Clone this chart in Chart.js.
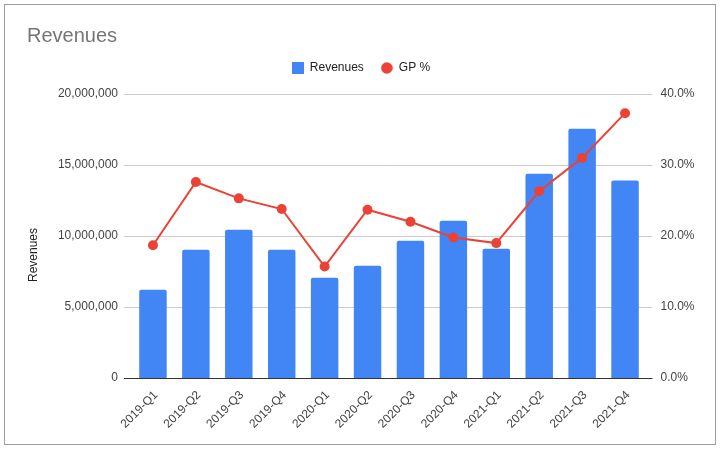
<!DOCTYPE html>
<html>
<head>
<meta charset="utf-8">
<script src="https://cdn.jsdelivr.net/npm/chart.js@4"></script>
<style>
  html, body { margin: 0; padding: 0; background: #fff; }
  canvas { display: block; }
</style>
</head>
<body>
<canvas id="c" width="723" height="453"></canvas>
<script>
const categories = ['2019-Q1','2019-Q2','2019-Q3','2019-Q4','2020-Q1','2020-Q2','2020-Q3','2020-Q4','2021-Q1','2021-Q2','2021-Q3','2021-Q4'];
const revenues = [6220000, 9040000, 10440000, 9040000, 7060000, 7900000, 9660000, 11080000, 9100000, 14390000, 17560000, 13900000];
const gpPercent = [18.7, 27.6, 25.3, 23.8, 15.7, 23.7, 22.0, 19.8, 19.0, 26.3, 31.0, 37.3];
const leftTicks = [0, 5000000, 10000000, 15000000, 20000000];
const rightTicks = [0, 10, 20, 30, 40];

const BLUE = '#4285F4';
const RED = '#EA4335';
const FONT = '"Liberation Sans", Arial, sans-serif';

function makeSwatch(shape, color) {
  const cv = document.createElement('canvas');
  cv.width = 12; cv.height = 12;
  const g = cv.getContext('2d');
  g.fillStyle = color;
  if (shape === 'rect') {
    g.fillRect(0, 0, 12, 12);
  } else {
    g.beginPath(); g.arc(6, 6, 5.8, 0, Math.PI * 2); g.fill();
  }
  return cv;
}
const swatches = [makeSwatch('rect', BLUE), makeSwatch('circle', RED)];

const framePlugin = {
  id: 'frame',
  beforeDraw(chart) {
    const ctx = chart.ctx;
    ctx.save();
    ctx.fillStyle = '#fff';
    ctx.fillRect(0, 0, chart.width, chart.height);
    ctx.strokeStyle = '#9e9e9e';
    ctx.lineWidth = 1;
    ctx.strokeRect(4.5, 4.5, 711, 440);
    ctx.restore();
  },
  beforeDatasetsDraw(chart) {
    // horizontal gridlines, extended slightly beyond the category band
    const ctx = chart.ctx;
    const ys = chart.scales.y;
    const area = chart.chartArea;
    ctx.save();
    ctx.lineWidth = 1;
    ys.ticks.forEach(t => {
      const py = Math.round(ys.getPixelForValue(t.value) - 0.5) + 0.5;
      ctx.strokeStyle = t.value === 0 ? '#333333' : '#cccccc';
      ctx.beginPath();
      ctx.moveTo(area.left - 7.5, py);
      ctx.lineTo(area.right + 6, py);
      ctx.stroke();
    });
    ctx.restore();
  },
  afterDraw(chart) {
    const ctx = chart.ctx;
    ctx.save();
    ctx.translate(33.5, 255);
    ctx.rotate(-Math.PI / 2);
    ctx.font = '12px ' + FONT;
    ctx.fillStyle = '#222';
    ctx.textAlign = 'center';
    ctx.textBaseline = 'middle';
    ctx.fillText('Revenues', 0, 0);
    ctx.restore();
  }
};

new Chart(document.getElementById('c'), {
  data: {
    labels: categories,
    datasets: [
      {
        type: 'bar',
        label: 'Revenues',
        data: revenues,
        backgroundColor: BLUE,
        borderRadius: {topLeft: 2, topRight: 2},
        borderSkipped: 'start',
        categoryPercentage: 1,
        barPercentage: 0.64,
        yAxisID: 'y',
        order: 2
      },
      {
        type: 'line',
        label: 'GP %',
        data: gpPercent,
        borderColor: RED,
        backgroundColor: RED,
        borderWidth: 2,
        pointRadius: 5,
        pointBorderWidth: 0,
        pointBackgroundColor: RED,
        tension: 0,
        yAxisID: 'y1',
        order: 1
      }
    ]
  },
  options: {
    responsive: false,
    animation: false,
    devicePixelRatio: 1,
    layout: { padding: { left: 27, right: 28, top: 0, bottom: 0 } },
    plugins: {
      tooltip: { enabled: false },
      title: {
        display: true,
        text: 'Revenues',
        align: 'start',
        color: '#757575',
        font: { family: FONT, size: 20, weight: 'normal', lineHeight: 0.9 },
        padding: { top: 27, bottom: 0 }
      },
      subtitle: {
        display: true,
        text: '',
        weight: 500,
        font: { size: 10, lineHeight: 1 },
        padding: 0
      },
      legend: {
        display: true,
        position: 'top',
        labels: {
          usePointStyle: true,
          boxWidth: 12,
          boxHeight: 12,
          padding: 17,
          color: '#222',
          font: { family: FONT, size: 12 },
          sort: (a, b) => a.datasetIndex - b.datasetIndex,
          generateLabels(chart) {
            const items = Chart.defaults.plugins.legend.labels.generateLabels(chart);
            items.forEach(it => { it.pointStyle = swatches[it.datasetIndex]; it.lineWidth = 0; });
            return items;
          }
        }
      }
    },
    scales: {
      x: {
        grid: { display: false },
        border: { display: false },
        ticks: {
          autoSkip: false,
          maxRotation: 45,
          minRotation: 45,
          color: '#444',
          font: { family: FONT, size: 12 },
          padding: 2,
          labelOffset: 3
        },
        afterFit(scale) { scale.height = 75; }
      },
      y: {
        position: 'left',
        min: 0,
        max: 20000000,
        afterBuildTicks(scale) { scale.ticks = leftTicks.map(v => ({ value: v })); },
        grid: { display: false, drawTicks: false },
        border: { display: false },
        ticks: {
          padding: 13.5,
          color: '#444',
          font: { family: FONT, size: 12 },
          callback: v => v.toLocaleString('en-US')
        },
        afterFit(scale) { scale.width = 104.5; }
      },
      y1: {
        position: 'right',
        min: 0,
        max: 40,
        afterBuildTicks(scale) { scale.ticks = rightTicks.map(v => ({ value: v })); },
        grid: { display: false, drawTicks: false },
        border: { display: false },
        ticks: {
          padding: 14,
          color: '#444',
          font: { family: FONT, size: 12 },
          callback: v => v.toFixed(1) + '%'
        },
        afterFit(scale) { scale.width = 48.5; }
      }
    }
  },
  plugins: [framePlugin]
});
</script>
</body>
</html>
